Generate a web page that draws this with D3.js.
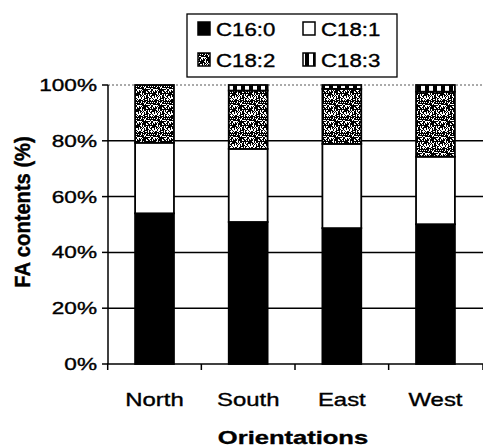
<!DOCTYPE html>
<html>
<head>
<meta charset="utf-8">
<script src="https://cdn.jsdelivr.net/npm/d3@7"></script>
<style>
  html, body { margin: 0; padding: 0; background: #fff; }
  svg { display: block; }
  text { font-family: "Liberation Sans", Arial, sans-serif; fill: #000; stroke: #000; stroke-width: 0.35px; }
</style>
</head>
<body>
<svg id="chart" width="483" height="448"></svg>
<script>
// Fatty-acid composition by orientation (percent of total)
const categories = ["North", "South", "East", "West"];
const seriesNames = ["C16:0", "C18:1", "C18:2", "C18:3"];
const c160 = [54.0, 50.9, 48.7, 50.1];
const c181 = [25.3, 26.2, 30.2, 24.2];
const c182 = [20.7, 20.9, 19.7, 23.3];
const c183 = [0.0, 2.0, 1.4, 2.4];
const yTicks = [0, 20, 40, 60, 80, 100];
const xTitle = "Orientations";
const yTitle = "FA contents (%)";

const rows = categories.map((c, i) => ({
  cat: c, "C16:0": c160[i], "C18:1": c181[i], "C18:2": c182[i], "C18:3": c183[i]
}));

const svg = d3.select("#chart");
const plot = { left: 107, right: 483, top: 85, bottom: 364 };
const sx = 1.33; // horizontal text stretch

const x = d3.scaleBand().domain(categories)
  .range([plot.left, plot.right]).paddingInner(0.585).paddingOuter(0.3);
const y = d3.scaleLinear().domain([0, 100]).range([plot.bottom, plot.top]);

// ---- fill patterns ----
const defs = svg.append("defs");
// stipple for C18:2
const stip = defs.append("pattern").attr("id", "stipple")
  .attr("patternUnits", "userSpaceOnUse").attr("width", 16).attr("height", 16);
stip.append("rect").attr("width", 16).attr("height", 16).attr("fill", "#fff");
for (let i = 0; i < 16; i++) {
  for (let j = 0; j < 16; j++) {
    const h = ((i * 73856093) ^ (j * 19349663) ^ ((i + j) * 83492791)) >>> 0;
    if ((h % 100) < 62) {
      stip.append("rect").attr("x", i).attr("y", j).attr("width", 1).attr("height", 1).attr("fill", "#000");
    }
  }
}
// vertical stripes for C18:3
const stripes = defs.append("pattern").attr("id", "stripes")
  .attr("patternUnits", "userSpaceOnUse").attr("width", 8).attr("height", 8);
stripes.append("rect").attr("width", 8).attr("height", 8).attr("fill", "#fff");
stripes.append("rect").attr("x", 1).attr("width", 4).attr("height", 8).attr("fill", "#000");

const fills = { "C16:0": "#000", "C18:1": "#fff", "C18:2": "url(#stipple)", "C18:3": "url(#stripes)" };

// ---- gridlines ----
svg.append("g").selectAll("line").data(yTicks.filter(t => t > 0))
  .join("line")
  .attr("x1", plot.left + 1).attr("x2", plot.right)
  .attr("y1", d => y(d)).attr("y2", d => y(d))
  .attr("stroke", d => d === 100 ? "#555" : "#000")
  .attr("stroke-width", d => d === 100 ? 1 : 1.5)
  .attr("stroke-dasharray", d => d === 100 ? "2,2" : null);

// ---- stacked bars ----
const stack = d3.stack().keys(seriesNames)(rows);
svg.append("g").selectAll("g").data(stack).join("g")
  .attr("fill", d => fills[d.key])
  .selectAll("rect").data(d => d.filter(p => p[1] - p[0] > 0)).join("rect")
  .attr("x", d => x(d.data.cat))
  .attr("width", x.bandwidth())
  .attr("y", d => y(d[1]))
  .attr("height", d => y(d[0]) - y(d[1]))
  .attr("stroke", "#000").attr("stroke-width", 1.8);

// ---- axes ----
const axes = svg.append("g").attr("stroke", "#000").attr("stroke-width", 1.5);
axes.append("line").attr("x1", plot.left + 1).attr("x2", plot.left + 1)
  .attr("y1", plot.top).attr("y2", plot.bottom);
axes.append("line").attr("x1", plot.left).attr("x2", plot.right)
  .attr("y1", plot.bottom).attr("y2", plot.bottom);
axes.selectAll(".yt").data(yTicks).join("line")
  .attr("x1", plot.left - 5).attr("x2", plot.left + 1)
  .attr("y1", d => y(d)).attr("y2", d => y(d));
const step = x.step();
const bounds = categories.map(c => x(c) - x.paddingInner() * step / 2).concat([plot.right]);
axes.selectAll(".xt").data(bounds).join("line")
  .attr("x1", d => d).attr("x2", d => d)
  .attr("y1", plot.bottom).attr("y2", plot.bottom + 6);

function stretchedText(parent, tx, ty, str, opts) {
  const g = parent.append("g").attr("transform", `translate(${tx},${ty}) scale(${opts.sx || sx},1)`);
  return g.append("text").attr("text-anchor", opts.anchor || "start")
    .attr("font-size", opts.size || 17.5)
    .attr("font-weight", opts.weight || "normal")
    .text(str);
}

// y tick labels
yTicks.forEach(t => stretchedText(svg, 97, y(t) + 6, t + "%", { anchor: "end", size: 17 }));
// x tick labels
categories.forEach(c => stretchedText(svg, x(c) + x.bandwidth() / 2, 406, c, { anchor: "middle", size: 18 }));

// axis titles
stretchedText(svg, 293, 444, xTitle, { anchor: "middle", size: 18.5, weight: "bold", sx: 1.38 });
svg.append("g").attr("transform", "translate(30,212) rotate(-90) scale(1.12,1.2)")
  .append("text").attr("text-anchor", "middle").attr("font-size", 18)
  .attr("font-weight", "bold").text(yTitle);

// ---- legend ----
const leg = svg.append("g");
leg.append("rect").attr("x", 187).attr("y", 14).attr("width", 210).attr("height", 63)
  .attr("fill", "#fff").attr("stroke", "#000").attr("stroke-width", 1.3);
const legPos = [[198, 22], [303, 22], [198, 53], [303, 53]];
seriesNames.forEach((s, i) => {
  const [lx, ly] = legPos[i];
  leg.append("rect").attr("x", lx).attr("y", ly).attr("width", 12).attr("height", 13)
    .attr("fill", fills[s]).attr("stroke", "#000").attr("stroke-width", 1.5);
  stretchedText(leg, lx + 18, ly + 14, s, { size: 17.5, sx: 1.27 });
});
</script>
</body>
</html>
